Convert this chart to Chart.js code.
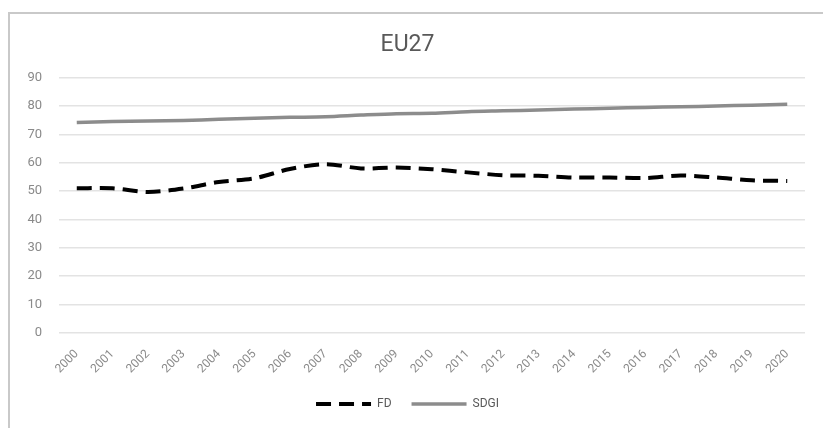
<!DOCTYPE html>
<html>
<head>
<meta charset="utf-8">
<script src="https://cdn.jsdelivr.net/npm/chart.js@4.4.1/dist/chart.umd.min.js"></script>
<style>
  html, body { margin: 0; padding: 0; background: #ffffff; }
  #wrap { position: relative; width: 823px; height: 428px; overflow: hidden; }
  #frame { position: absolute; left: 8px; top: 12px; width: 900px; height: 500px;
           border-left: 2px solid #c9c9c9; border-top: 2px solid #c9c9c9; }
  #c { position: absolute; left: 0; top: 0; }
</style>
</head>
<body>
<div id="wrap">
  <div id="frame"></div>
  <canvas id="c" width="823" height="428"></canvas>
</div>
<script>
const years = ["2000","2001","2002","2003","2004","2005","2006","2007","2008","2009","2010",
               "2011","2012","2013","2014","2015","2016","2017","2018","2019","2020"];
const fdValues = [51, 51, 49.7, 50.9, 53.2, 54.5, 57.8, 59.5, 58.0, 58.3, 57.7,
                  56.6, 55.6, 55.4, 54.8, 54.8, 54.6, 55.5, 54.8, 53.8, 53.6];
const sdgiValues = [74.2, 74.5, 74.7, 74.9, 75.3, 75.7, 76.0, 76.2, 76.8, 77.3, 77.4,
                    78.0, 78.3, 78.6, 78.9, 79.2, 79.5, 79.7, 80.0, 80.3, 80.6];
const yTicks = [0, 10, 20, 30, 40, 50, 60, 70, 80, 90];
const chartTitle = "EU27";

new Chart(document.getElementById('c'), {
  type: 'line',
  data: {
    labels: years,
    datasets: [
      { label: 'FD', data: fdValues, borderColor: '#000000', backgroundColor: '#000000',
        borderWidth: 4, borderDash: [15, 8], pointRadius: 0, tension: 0.3, fill: false },
      { label: 'SDGI', data: sdgiValues, borderColor: '#8c8c8c', backgroundColor: '#8c8c8c',
        borderWidth: 3.5, pointRadius: 0, tension: 0.3, fill: false }
    ]
  },
  options: {
    responsive: false,
    animation: false,
    layout: { padding: { left: 10, right: 18, top: 25, bottom: 8 } },
    plugins: {
      title: { display: true, text: chartTitle, color: '#595959',
               font: { family: 'Roboto', size: 23, weight: 'normal' }, padding: { top: 6, bottom: 19 } },
      legend: { position: 'bottom',
                labels: {
                  usePointStyle: true, pointStyle: 'line', pointStyleWidth: 55, boxHeight: 4,
                  color: '#595959', font: { family: 'Roboto', size: 12 }, padding: 20,
                  generateLabels: (chart) => {
                    const items = Chart.defaults.plugins.legend.labels.generateLabels(chart);
                    items.forEach(it => {
                      const ds = chart.data.datasets[it.datasetIndex];
                      it.lineDash = ds.borderDash || [];
                      it.lineWidth = ds.borderWidth;
                      it.strokeStyle = ds.borderColor;
                    });
                    return items;
                  }
                } },
      tooltip: { enabled: false }
    },
    scales: {
      x: {
        offset: true,
        afterFit: (axis) => { axis.height = 45; },
        grid: { display: false, drawTicks: false },
        border: { display: false },
        ticks: { color: '#8a8a8a', font: { family: 'Roboto', size: 12 },
                 maxRotation: 45, minRotation: 45, autoSkip: false, padding: 14 }
      },
      y: {
        min: 0, max: 90,
        afterBuildTicks: (axis) => { axis.ticks = yTicks.map(v => ({ value: v })); },
        afterFit: (axis) => { axis.width = 49; },
        grid: { color: '#e3e3e3', lineWidth: 1.5, drawTicks: false },
        border: { display: false },
        ticks: { color: '#8a8a8a', font: { family: 'Roboto', size: 13 }, padding: 17 }
      }
    }
  }
});
</script>
</body>
</html>
